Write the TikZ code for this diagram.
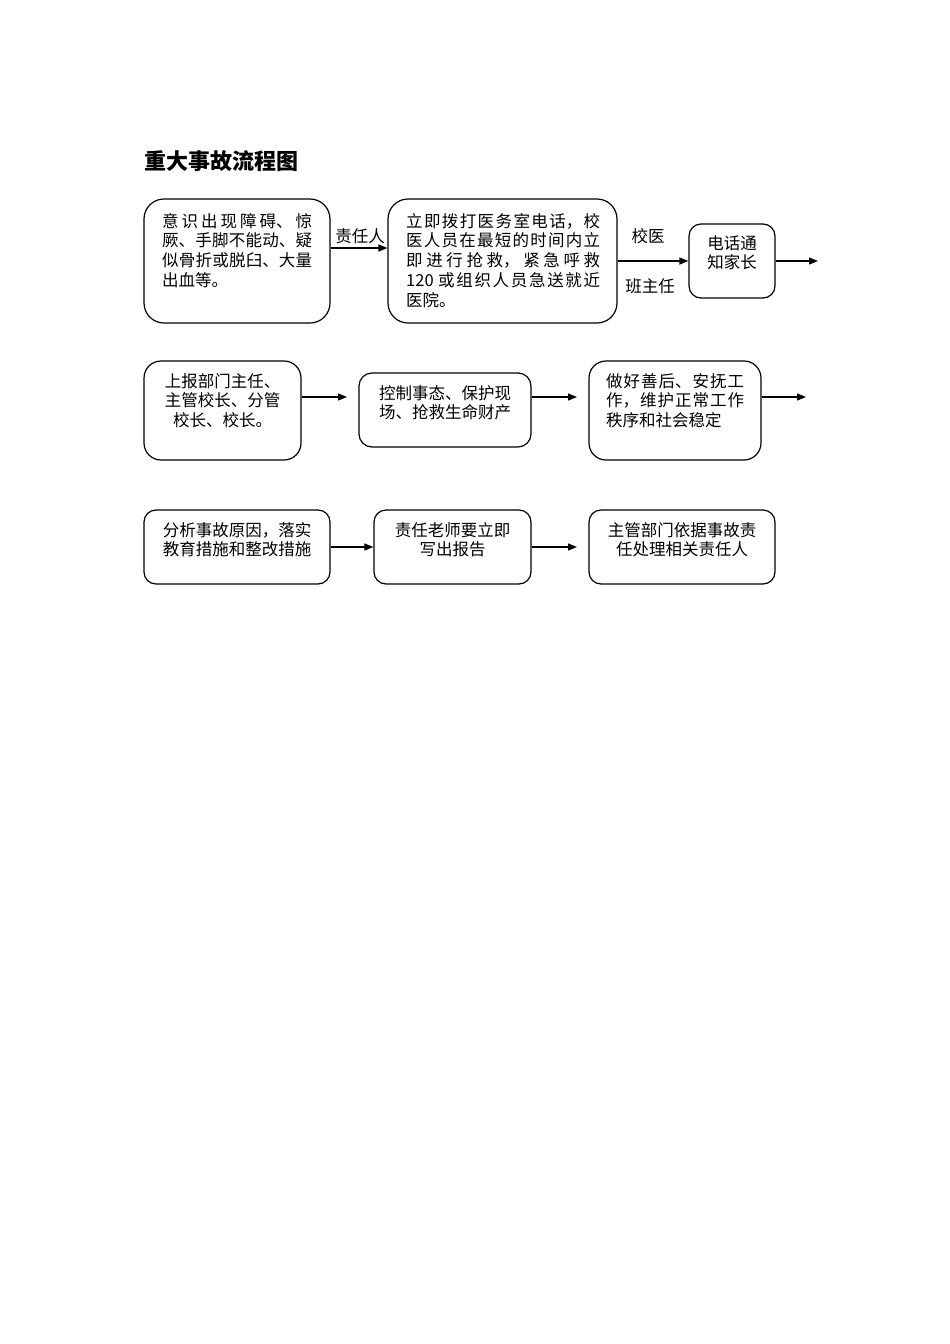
\documentclass[tikz,border=0pt]{standalone}
\usepackage{fontspec}
\setmainfont{Noto Sans CJK SC}
\usetikzlibrary{arrows.meta}
\XeTeXlinebreaklocale "zh"
\XeTeXlinebreakskip=0pt plus 4pt
\begin{document}
\begin{tikzpicture}[x=1pt,y=-1pt,
  box/.style={draw,line width=1.2pt,inner sep=0pt},
  txt/.style={inner sep=0pt,font=\fontsize{16.5}{19.7}\selectfont},
  lbl/.style={inner sep=0pt,font=\fontsize{16.5}{19.7}\selectfont},
  arr/.style={line width=1.2pt,-{Triangle[length=9pt,width=7pt]}}]
\useasboundingbox (0,0) rectangle (950,1344);
\fill[white] (0,0) rectangle (950,1344);

\node[anchor=west,inner sep=0pt,font=\bfseries\fontsize{22}{26}\selectfont] (title) at (144,161) {重大事故流程图};

% row 1
\node[box,minimum width=186pt,minimum height=124pt,rounded corners=20pt] (b1) at (237,261) {};
\node[box,minimum width=229pt,minimum height=124pt,rounded corners=20pt] (b2) at (502.5,261) {};
\node[box,minimum width=86pt,minimum height=74pt,rounded corners=12pt] (b3) at (732,261) {};
\node[txt,anchor=north west,text width=150pt,align=justify] (t1) at (162,213)
 {意识出现障碍、惊\linebreak 厥、手脚不能动、疑\linebreak 似骨折或脱臼、大量\linebreak 出血等。};
\node[txt,anchor=north west,text width=194pt,align=justify] (t2) at (406,213)
 {立即拨打医务室电话，校\linebreak 医人员在最短的时间内立\linebreak 即进行抢救，紧急呼救\linebreak 120 或组织人员急送就近\linebreak 医院。};
\node[txt,anchor=north,align=center] (t3) at (732,235) {电话通\\知家长};
\coordinate (e1) at (818,261);
\draw[arr] ([yshift=13pt]b1.east) -- ([yshift=13pt]b2.west);
\node[lbl] (l1) at (360,236) {责任人};
\draw[arr] (b2.east) -- (b3.west);
\node[lbl] (l2) at (648,236) {校医};
\node[lbl] (l3) at (650,286) {班主任};
\draw[arr] (b3.east) -- (e1);

% row 2
\node[box,minimum width=157pt,minimum height=99pt,rounded corners=17pt] (b4) at (222.5,410.5) {};
\node[box,minimum width=172pt,minimum height=74pt,rounded corners=13pt] (b5) at (445,410) {};
\node[box,minimum width=172pt,minimum height=99pt,rounded corners=17pt] (b6) at (675,410.5) {};
\node[txt,anchor=north,align=center] (t4) at (222.5,373) {上报部门主任、\\主管校长、分管\\校长、校长。};
\node[txt,anchor=north,align=center] (t5) at (445,385) {控制事态、保护现\\场、抢救生命财产};
\node[txt,anchor=north west,text width=138pt,align=justify] (t6) at (606,373)
 {做好善后、安抚工\linebreak 作，维护正常工作\linebreak 秩序和社会稳定};
\coordinate (e2) at (347,397);
\coordinate (e3) at (577,397);
\coordinate (e4) at (806,397);
\draw[arr] ([yshift=13.5pt]b4.east) -- (e2);
\draw[arr] ([yshift=13pt]b5.east) -- (e3);
\draw[arr] ([yshift=13.5pt]b6.east) -- (e4);

% row 3
\node[box,minimum width=186pt,minimum height=74pt,rounded corners=12pt] (b7) at (237,547) {};
\node[box,minimum width=157pt,minimum height=74pt,rounded corners=12pt] (b8) at (452.5,547) {};
\node[box,minimum width=186pt,minimum height=74pt,rounded corners=12pt] (b9) at (682,547) {};
\node[txt,anchor=north,align=center] (t7) at (237,522) {分析事故原因，落实\\教育措施和整改措施};
\node[txt,anchor=north,align=center] (t8) at (452.5,522) {责任老师要立即\\写出报告};
\node[txt,anchor=north,align=center] (t9) at (682,522) {主管部门依据事故责\\任处理相关责任人};
\coordinate (e5) at (577,547);
\draw[arr] (b7.east) -- (b8.west);
\draw[arr] (b8.east) -- (e5);
\end{tikzpicture}
\end{document}
